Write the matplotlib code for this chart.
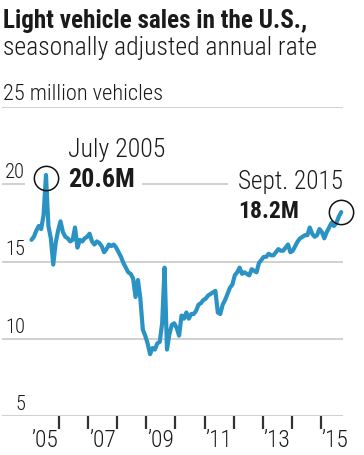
import matplotlib
matplotlib.use('Agg')
import matplotlib.pyplot as plt
from matplotlib import font_manager as fm
from matplotlib.transforms import offset_copy
import numpy as np

# ---------------- data ----------------
title = "Light vehicle sales in the U.S.,"
subtitle = "seasonally adjusted annual rate"
unit_label = "25 million vehicles"

start_year = 2005
# monthly SAAR, millions, Jan 2005 .. Sep 2015
sales = [
    16.4, 16.6, 17.0, 17.3, 17.1, 18.0, 20.6, 17.3, 16.5, 14.8, 16.2, 17.0,   # 2005
    17.6, 16.9, 16.6, 16.5, 16.3, 16.4, 17.2, 15.9, 16.4, 16.3, 16.5, 16.6,   # 2006
    16.8, 16.3, 16.1, 16.3, 16.2, 16.0, 15.6, 15.8, 16.1, 16.0, 16.1, 15.9,   # 2007
    15.6, 15.3, 14.9, 14.6, 14.3, 14.2, 13.9, 12.7, 13.8, 12.6, 10.6, 10.2,   # 2008
    9.7, 9.0, 9.4, 9.3, 9.7, 9.8, 11.0, 14.6, 9.3, 10.3, 10.9, 11.0,          # 2009
    10.7, 10.2, 11.5, 11.3, 11.7, 11.3, 11.6, 11.6, 11.8, 12.2, 12.3, 12.5,   # 2010
    12.6, 12.8, 12.9, 13.0, 13.1, 11.7, 11.6, 12.2, 12.5, 12.9, 13.3, 13.5,   # 2011
    14.1, 14.3, 14.6, 14.2, 14.3, 14.2, 14.1, 14.5, 14.4, 14.3, 14.9, 15.1,   # 2012
    15.3, 15.3, 15.5, 15.4, 15.4, 15.6, 15.8, 15.7, 15.7, 15.9, 16.1, 15.6,   # 2013
    15.7, 16.0, 16.3, 16.5, 16.6, 16.7, 16.7, 17.2, 16.8, 16.6, 16.7, 17.1,   # 2014
    16.9, 16.5, 16.9, 17.2, 17.5, 17.3, 17.5, 17.9, 18.2,                     # 2015
]
y_ticks = [5, 10, 15, 20, 25]
y_tick_labels = ["5", "10", "15", "20", ""]
x_ticks = list(range(2006, 2016))
x_label_years = [2005, 2007, 2009, 2011, 2013, 2015]
x_labels = ["\u201905", "\u201907", "\u201909", "\u201911", "\u201913", "\u201915"]

peak_label = ("July 2005", "20.6M")
last_label = ("Sept. 2015", "18.2M")

# ---------------- style ----------------
W, H = 364, 455
DPI = 100
BLUE = "#2a93c3"
GRID = "#c4c4c4"
TXT = "#1a1a1a"

names = {f.name for f in fm.fontManager.ttflist}
FAM = next((n for n in ["Roboto Condensed", "Liberation Sans Narrow",
                        "Open Sans Condensed", "Roboto"] if n in names), "DejaVu Sans")
plt.rcParams['font.family'] = [FAM, 'DejaVu Sans']

fig = plt.figure(figsize=(W / DPI, H / DPI), dpi=DPI)
renderer = fig.canvas.get_renderer()


def px(x, y):
    return x / W, 1 - y / H


def fit(x, y, s, width, size=14, weight='light', ha='left'):
    xf, yf = px(x, y)
    t = fig.text(xf, yf, s, fontsize=size, fontweight=weight, ha=ha,
                 va='baseline', color=TXT)
    w = t.get_window_extent(renderer).width
    t.set_fontsize(size * width / w)
    return t


# header texts
fit(3, 28, title, 304, 16, 'bold')
fit(3, 55, subtitle, 313, 16, 'light')
fit(3, 100, unit_label, 160, 14, 'light')

# axes geometry (pixels)
ax_l, ax_r, ax_t, ax_b = 2, 343, 107, 416
ax = fig.add_axes([ax_l / W, 1 - ax_b / H, (ax_r - ax_l) / W, (ax_b - ax_t) / H])
ax.set_ylim(5, 25)
px_per_year = 29.04
x0_year = 2006 + (ax_l - 59.3) / px_per_year
x1_year = 2006 + (ax_r - 59.3) / px_per_year
ax.set_xlim(x0_year, x1_year)
for s in ax.spines.values():
    s.set_visible(False)
ax.set_yticks([])
ax.set_xticks(x_ticks)
ax.set_xticklabels([])
ax.tick_params(axis='x', length=9, width=1.6, color='#333333', direction='out', pad=0)
ax.patch.set_alpha(0)

# gridlines
for v in y_ticks:
    if v == 20:
        continue
    ax.axhline(v, color=GRID, lw=1.1, zorder=1)
# gridline at 20 is interrupted by the annotations
xx = lambda p: 2006 + (p - 59.3) / px_per_year
ax.hlines(20, x0_year, xx(25), color=GRID, lw=1.1, zorder=1)
ax.hlines(20, xx(142), xx(228), color=GRID, lw=1.1, zorder=1)

# data line
months = np.arange(len(sales))
xs = start_year + (months + 0.5) / 12.0
ax.plot(xs, sales, color=BLUE, lw=3.0, solid_joinstyle='round',
        solid_capstyle='round', zorder=3, clip_on=False)

# circles
ipk = int(np.argmax(sales))
ax.plot([xs[ipk]], [sales[ipk] - 0.2], marker='o', ms=17.5, mfc='none',
        mec='#111111', mew=1.1, zorder=4, clip_on=False)
ax.plot([xs[-1]], [sales[-1]], marker='o', ms=17.5, mfc='none',
        mec='#111111', mew=1.1, zorder=4, clip_on=False)

# y labels: right aligned, just above gridline
ytrans = offset_copy(ax.get_yaxis_transform(), fig=fig, x=0, y=6, units='dots')
ylab_x = (25 - ax_l) / (ax_r - ax_l)
ysize = 13
ylab_texts = []
for v, lab in zip(y_ticks, y_tick_labels):
    if not lab:
        continue
    t = ax.text(ylab_x, v, lab, transform=ytrans, ha='right', va='baseline',
                fontsize=13, fontweight='light', color=TXT)
    ylab_texts.append(t)
    if lab == "10":
        w = t.get_window_extent(renderer).width
        ysize = 13 * 20 / w
for t in ylab_texts:
    t.set_fontsize(ysize)

# x labels
xtrans = ax.get_xaxis_transform()
xl_texts = []
for yr, lab in zip(x_label_years, x_labels):
    t = ax.text(yr + 0.5, -(447 - ax_b) / (ax_b - ax_t), lab, transform=xtrans,
                ha='center', va='baseline', fontsize=14, fontweight='light', color=TXT)
    xl_texts.append(t)
w = xl_texts[2].get_window_extent(renderer).width
for t in xl_texts:
    t.set_fontsize(14 * 27 / w)

# annotations
fit(68, 157, peak_label[0], 98, 14, 'light')
fit(68, 187, peak_label[1], 67, 14, 'bold')
fit(238, 189, last_label[0], 105, 14, 'light')
fit(238, 218, last_label[1], 61, 14, 'bold')

fig.savefig("out.png", dpi=DPI)
